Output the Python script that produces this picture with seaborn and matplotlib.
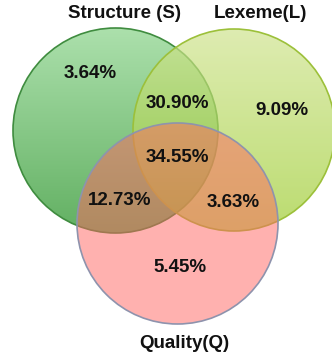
import numpy as np
import matplotlib
matplotlib.use("Agg")
import matplotlib.pyplot as plt
from matplotlib.patches import Circle
import seaborn as sns

# Set names and region shares
set_labels = ["Structure (S)", "Lexeme(L)", "Quality(Q)"]
region_names = ["S only", "L only", "Q only", "S&L", "S&Q", "L&Q", "S&L&Q"]
region_values = [3.64, 9.09, 5.45, 30.90, 12.73, 3.63, 34.55]

sns.set_theme(style="white")
plt.rcParams["font.family"] = ["Liberation Sans", "DejaVu Sans"]

fig = plt.figure(figsize=(3.32, 3.6), dpi=100)
ax = fig.add_axes([0, 0, 1, 1])
ax.set_xlim(0, 332)
ax.set_ylim(360, 0)
ax.set_aspect("equal")
ax.axis("off")

# circle geometry (centre x, centre y, radius) in canvas units
circles = {
    "S": (115.5, 130.5, 102.5),
    "L": (234.0, 130.0, 101.0),
    "Q": (177.5, 223.5, 100.5),
}


def gradient_fill(key, top_rgb, bottom_rgb, alpha, edge, z):
    cx, cy, r = circles[key]
    n = 256
    t = np.linspace(0, 1, n)[:, None]
    top = np.array(top_rgb) / 255.0
    bot = np.array(bottom_rgb) / 255.0
    img = (top[None, :] * (1 - t) + bot[None, :] * t)[:, None, :]
    img = np.repeat(img, 2, axis=1)
    clip = Circle((cx, cy), r, transform=ax.transData, facecolor="none", edgecolor="none")
    ax.add_patch(clip)
    im = ax.imshow(img, extent=(cx - r, cx + r, cy + r, cy - r), alpha=alpha,
                   interpolation="bilinear", zorder=z, aspect="auto")
    im.set_clip_path(clip)
    ax.add_patch(Circle((cx, cy), r, facecolor="none", edgecolor=edge, lw=1.2, zorder=z + 0.1))


gradient_fill("S", (172, 224, 172), (98, 176, 98), 1.0, "#3f8c3f", 1)
gradient_fill("L", (208, 228, 144), (158, 205, 49), 0.7, "#9cc03a", 2)

cx, cy, r = circles["Q"]
ax.add_patch(Circle((cx, cy), r, facecolor=(255 / 255, 101 / 255, 97 / 255), alpha=0.5,
                    edgecolor="none", zorder=3))
ax.add_patch(Circle((cx, cy), r, facecolor="none", edgecolor="#8e93ad", lw=1.2, zorder=3.1))

# region labels (baseline positions)
label_pos = {
    "S only": (90, 78),
    "L only": (282, 115),
    "Q only": (180, 272),
    "S&L": (177.5, 108),
    "S&Q": (120, 205),
    "L&Q": (233, 207),
    "S&L&Q": (177, 162),
}
for name, val in zip(region_names, region_values):
    x, y = label_pos[name]
    ax.text(x, y, f"{val:.2f}%", ha="center", va="baseline", fontsize=13.5,
            fontweight="bold", color="#111111", zorder=5)

title_pos = [(124, 18), (260, 18), (184, 348)]
for lab, (x, y) in zip(set_labels, title_pos):
    ax.text(x, y, lab, ha="center", va="baseline", fontsize=13.5,
            fontweight="bold", color="#111111", zorder=5)

fig.savefig("out.png", dpi=100)
